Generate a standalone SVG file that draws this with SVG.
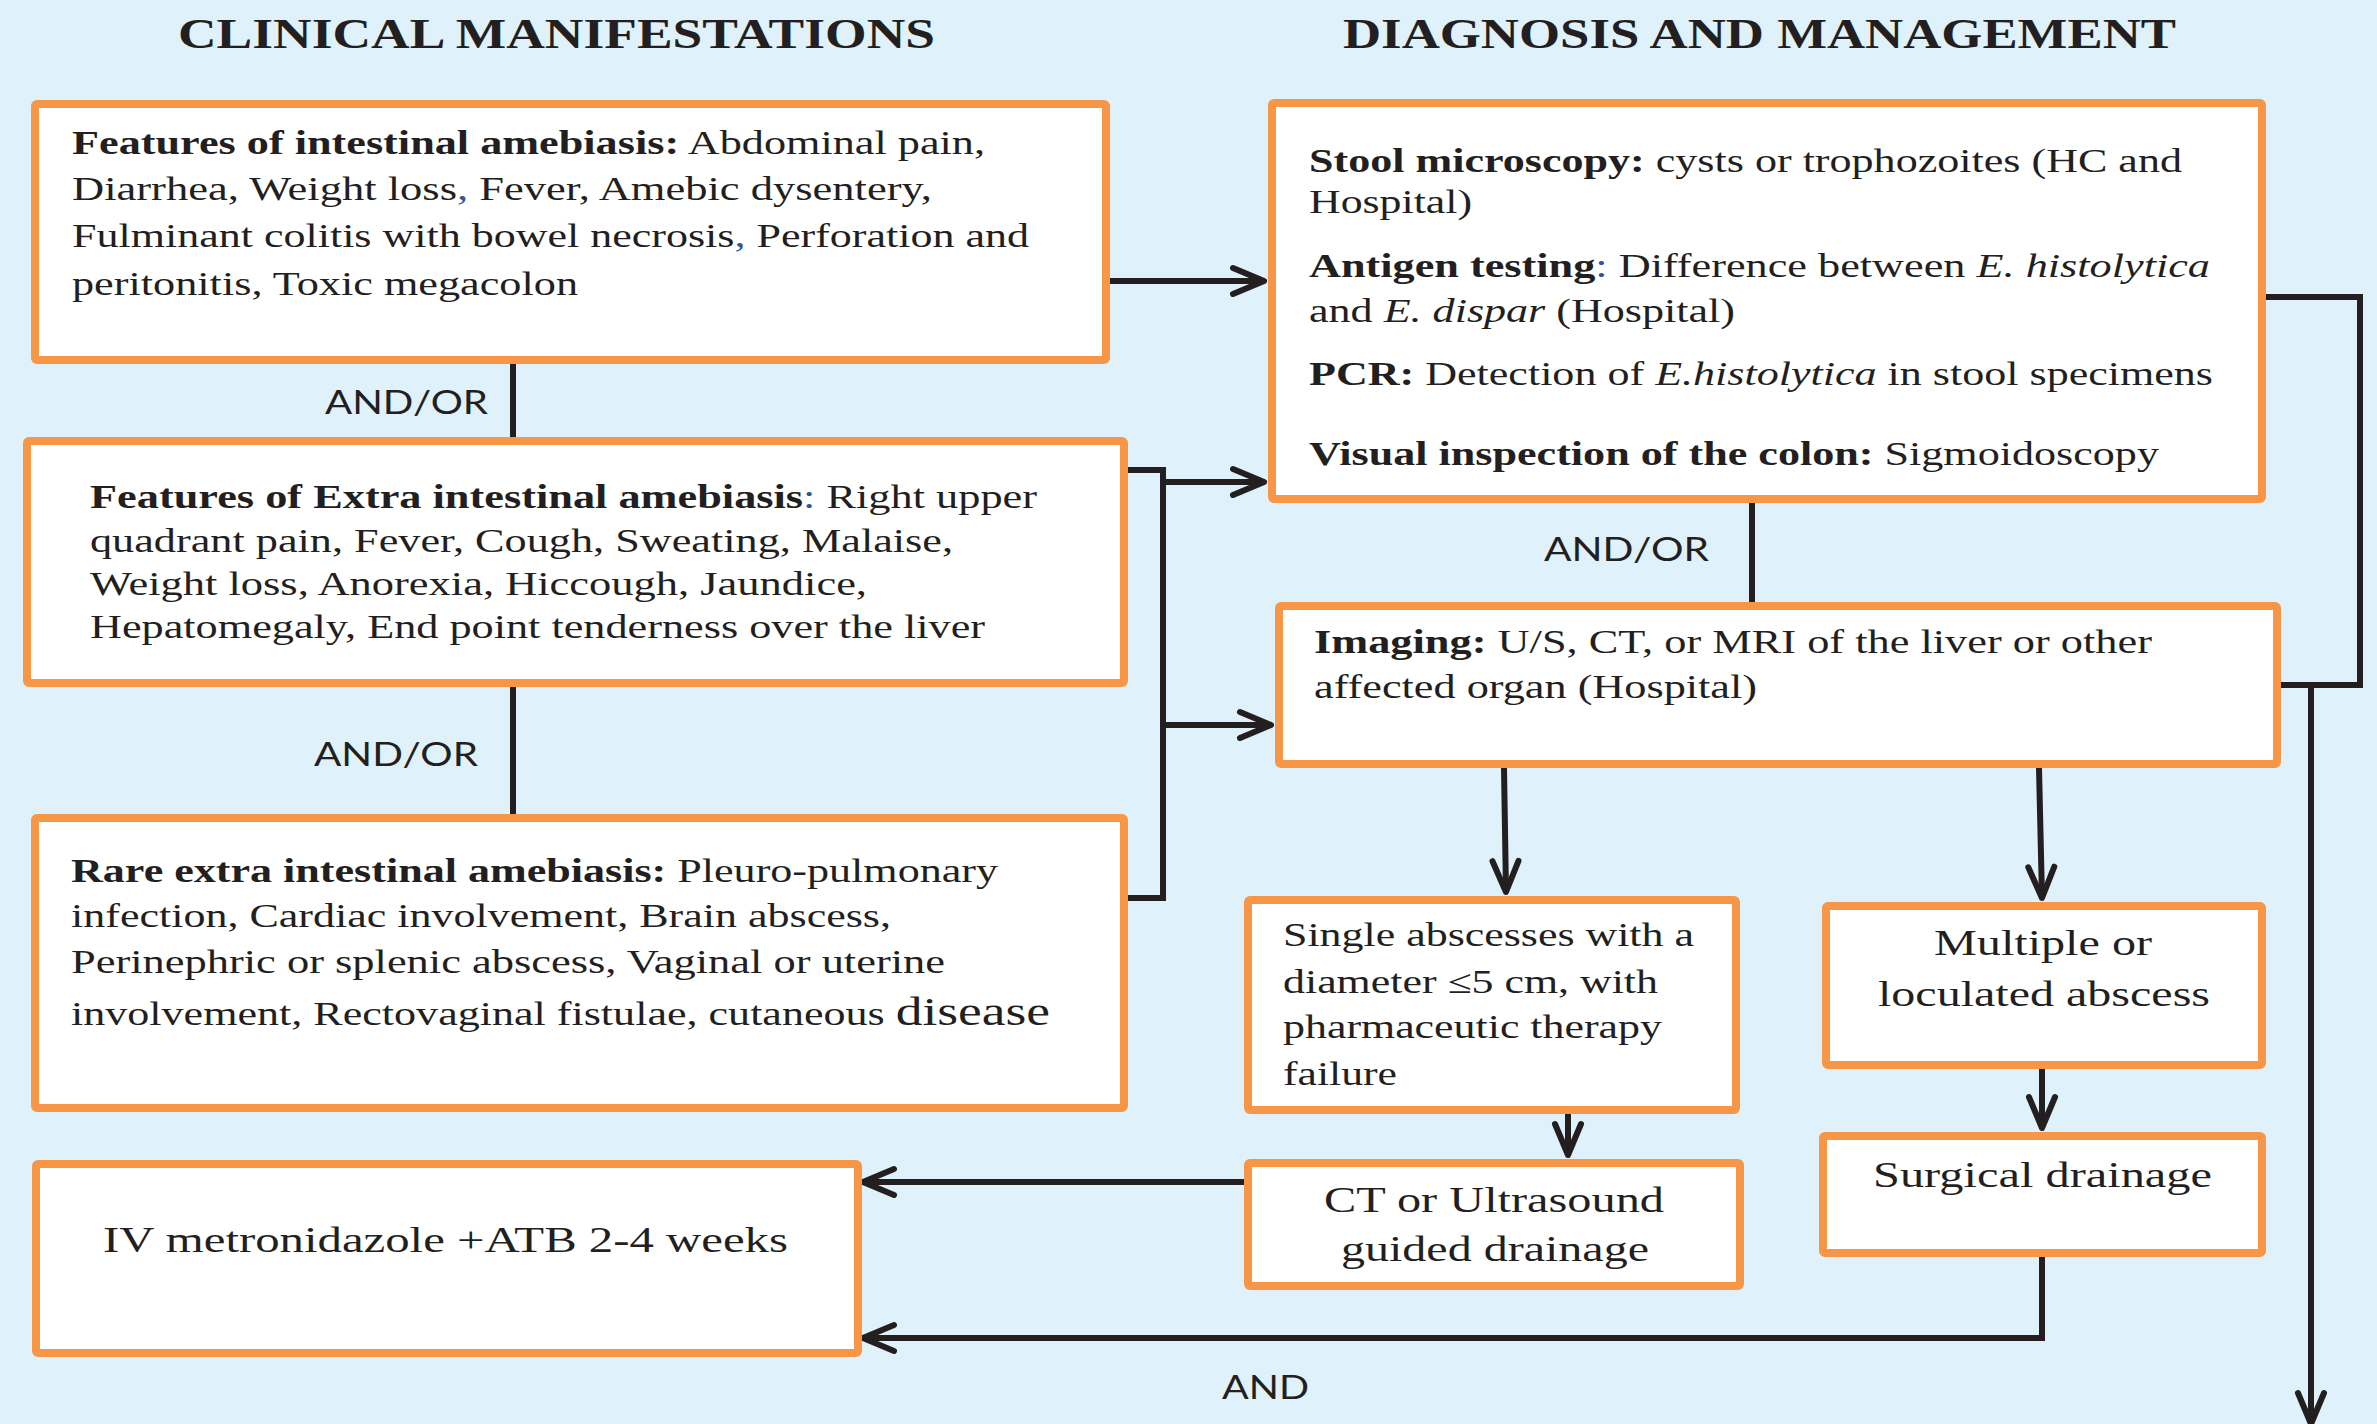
<svg xmlns="http://www.w3.org/2000/svg" width="2377" height="1424" viewBox="0 0 2377 1424">
<style>
.box{fill:#ffffff;stroke:#F79646;stroke-width:8}
.t{font-family:"Liberation Serif","Times New Roman",serif;font-size:33px;fill:#231F20}
.title{font-family:"Liberation Serif","Times New Roman",serif;font-size:42px;font-weight:bold;fill:#231F20}
.big{font-size:36px}
.b{font-weight:bold}
.i{font-style:italic}
.blue{fill:#2E5597}
.lbl{font-family:Lato,"Liberation Sans",sans-serif;font-size:32px;fill:#231F20}
.conn{fill:none;stroke:#231F20;stroke-width:6}
</style>
<defs>
<marker id="ah" markerUnits="userSpaceOnUse" viewBox="-40 -20 46 40" refX="0" refY="0" markerWidth="46" markerHeight="40" orient="auto" overflow="visible">
<path d="M-31,-13 L0,0 L-31,13" fill="none" stroke="#231F20" stroke-width="6" stroke-linecap="round" stroke-linejoin="round"/>
</marker>
</defs>
<rect x="0" y="0" width="2377" height="1424" fill="#DFF1FA"/>

<g id="titles">
<text class="title" x="178" y="48" textLength="757" lengthAdjust="spacingAndGlyphs">CLINICAL MANIFESTATIONS</text>
<text class="title" x="1343" y="48" textLength="833" lengthAdjust="spacingAndGlyphs">DIAGNOSIS AND MANAGEMENT</text>
</g>

<g id="connectors">
<path class="conn" d="M1110,281 H1264" marker-end="url(#ah)"/>
<path class="conn" d="M513,364 V437"/>
<path class="conn" d="M513,687 V814"/>
<path class="conn" d="M1128,470 H1163 V898 H1128"/>
<path class="conn" d="M1163,482 H1264" marker-end="url(#ah)"/>
<path class="conn" d="M1163,725 H1271" marker-end="url(#ah)"/>
<path class="conn" d="M1752,503 V602"/>
<path class="conn" d="M2266,297 H2360 V685 H2281"/>
<path class="conn" d="M2311,685 V1424" marker-end="url(#ah)"/>
<path class="conn" d="M1504,768 L1506,892" marker-end="url(#ah)"/>
<path class="conn" d="M2039,768 L2042,898" marker-end="url(#ah)"/>
<path class="conn" d="M1568,1114 V1155" marker-end="url(#ah)"/>
<path class="conn" d="M2042,1069 V1128" marker-end="url(#ah)"/>
<path class="conn" d="M1244,1182 H863" marker-end="url(#ah)"/>
<path class="conn" d="M2042,1257 V1338 H863" marker-end="url(#ah)"/>
<text class="lbl" x="325" y="414" textLength="163" lengthAdjust="spacingAndGlyphs">AND/OR</text>
<text class="lbl" x="314" y="766" textLength="164" lengthAdjust="spacingAndGlyphs">AND/OR</text>
<text class="lbl" x="1544" y="561" textLength="165" lengthAdjust="spacingAndGlyphs">AND/OR</text>
<text class="lbl" x="1222" y="1399" textLength="87" lengthAdjust="spacingAndGlyphs">AND</text>
</g>

<g id="intestinal">
<rect class="box" x="35" y="104" width="1071" height="256" rx="2"/>
<text class="t" x="72" y="154" textLength="913" lengthAdjust="spacingAndGlyphs"><tspan class="b">Features of intestinal amebiasis:</tspan> Abdominal pain,</text>
<text class="t" x="72" y="200" textLength="860" lengthAdjust="spacingAndGlyphs">Diarrhea, Weight loss<tspan class="blue">,</tspan> Fever, Amebic dysentery,</text>
<text class="t" x="72" y="247" textLength="957" lengthAdjust="spacingAndGlyphs">Fulminant colitis with bowel necrosis<tspan class="blue">,</tspan> Perforation and</text>
<text class="t" x="72" y="295" textLength="506" lengthAdjust="spacingAndGlyphs">peritonitis, Toxic megacolon</text>
</g>

<g id="extra-intestinal">
<rect class="box" x="27" y="441" width="1097" height="242" rx="2"/>
<text class="t" x="90" y="508" textLength="947" lengthAdjust="spacingAndGlyphs"><tspan class="b">Features of Extra intestinal amebiasis</tspan><tspan class="blue">:</tspan> Right upper</text>
<text class="t" x="90" y="552" textLength="863" lengthAdjust="spacingAndGlyphs">quadrant pain, Fever, Cough, Sweating, Malaise,</text>
<text class="t" x="90" y="595" textLength="777" lengthAdjust="spacingAndGlyphs">Weight loss, Anorexia, Hiccough, Jaundice,</text>
<text class="t" x="90" y="638" textLength="895" lengthAdjust="spacingAndGlyphs">Hepatomegaly, End point tenderness over the liver</text>
</g>

<g id="rare">
<rect class="box" x="35" y="818" width="1089" height="290" rx="2"/>
<text class="t" x="71" y="882" textLength="927" lengthAdjust="spacingAndGlyphs"><tspan class="b">Rare extra intestinal amebiasis:</tspan> Pleuro-pulmonary</text>
<text class="t" x="71" y="927" textLength="820" lengthAdjust="spacingAndGlyphs">infection, Cardiac involvement, Brain abscess,</text>
<text class="t" x="71" y="973" textLength="874" lengthAdjust="spacingAndGlyphs">Perinephric or splenic abscess, Vaginal or uterine</text>
<text class="t" x="71" y="1025" textLength="979" lengthAdjust="spacingAndGlyphs">involvement, Rectovaginal fistulae, cutaneous <tspan style="font-size:40px">disease</tspan></text>
</g>

<g id="iv-metronidazole">
<rect class="box" x="36" y="1164" width="822" height="189" rx="2"/>
<text class="t big" x="103" y="1252" textLength="685" lengthAdjust="spacingAndGlyphs">IV metronidazole +ATB 2-4 weeks</text>
</g>

<g id="diagnosis">
<rect class="box" x="1272" y="103" width="990" height="396" rx="2"/>
<text class="t" x="1309" y="172" textLength="873" lengthAdjust="spacingAndGlyphs"><tspan class="b">Stool microscopy:</tspan> cysts or trophozoites (HC and</text>
<text class="t" x="1309" y="213" textLength="163" lengthAdjust="spacingAndGlyphs">Hospital)</text>
<text class="t" x="1309" y="277" textLength="901" lengthAdjust="spacingAndGlyphs"><tspan class="b">Antigen testing</tspan><tspan class="blue">:</tspan> Difference between <tspan class="i">E. histolytica</tspan></text>
<text class="t" x="1309" y="322" textLength="426" lengthAdjust="spacingAndGlyphs">and <tspan class="i">E. dispar</tspan> (Hospital)</text>
<text class="t" x="1309" y="385" textLength="904" lengthAdjust="spacingAndGlyphs"><tspan class="b">PCR:</tspan> Detection of <tspan class="i">E.histolytica</tspan> in stool specimens</text>
<text class="t" x="1309" y="465" textLength="850" lengthAdjust="spacingAndGlyphs"><tspan class="b">Visual inspection of the colon:</tspan> Sigmoidoscopy</text>
</g>

<g id="imaging">
<rect class="box" x="1279" y="606" width="998" height="158" rx="2"/>
<text class="t" x="1314" y="653" textLength="838" lengthAdjust="spacingAndGlyphs"><tspan class="b">Imaging:</tspan> U/S, CT, or MRI of the liver or other</text>
<text class="t" x="1314" y="698" textLength="443" lengthAdjust="spacingAndGlyphs">affected organ (Hospital)</text>
</g>

<g id="single-abscess">
<rect class="box" x="1248" y="900" width="488" height="210" rx="2"/>
<text class="t" x="1283" y="946" textLength="411" lengthAdjust="spacingAndGlyphs">Single abscesses with a</text>
<text class="t" x="1283" y="993" textLength="375" lengthAdjust="spacingAndGlyphs">diameter ≤5 cm, with</text>
<text class="t" x="1283" y="1038" textLength="379" lengthAdjust="spacingAndGlyphs">pharmaceutic therapy</text>
<text class="t" x="1283" y="1085" textLength="114" lengthAdjust="spacingAndGlyphs">failure</text>
</g>

<g id="multiple-abscess">
<rect class="box" x="1826" y="906" width="436" height="159" rx="2"/>
<text class="t big" x="1934" y="955" textLength="218" lengthAdjust="spacingAndGlyphs">Multiple or</text>
<text class="t big" x="1878" y="1006" textLength="332" lengthAdjust="spacingAndGlyphs">loculated abscess</text>
</g>

<g id="guided-drainage">
<rect class="box" x="1248" y="1163" width="492" height="123" rx="2"/>
<text class="t big" x="1324" y="1212" textLength="340" lengthAdjust="spacingAndGlyphs">CT or Ultrasound</text>
<text class="t big" x="1341" y="1261" textLength="308" lengthAdjust="spacingAndGlyphs">guided drainage</text>
</g>

<g id="surgical-drainage">
<rect class="box" x="1823" y="1136" width="439" height="117" rx="2"/>
<text class="t big" x="1873" y="1187" textLength="339" lengthAdjust="spacingAndGlyphs">Surgical drainage</text>
</g>
</svg>
